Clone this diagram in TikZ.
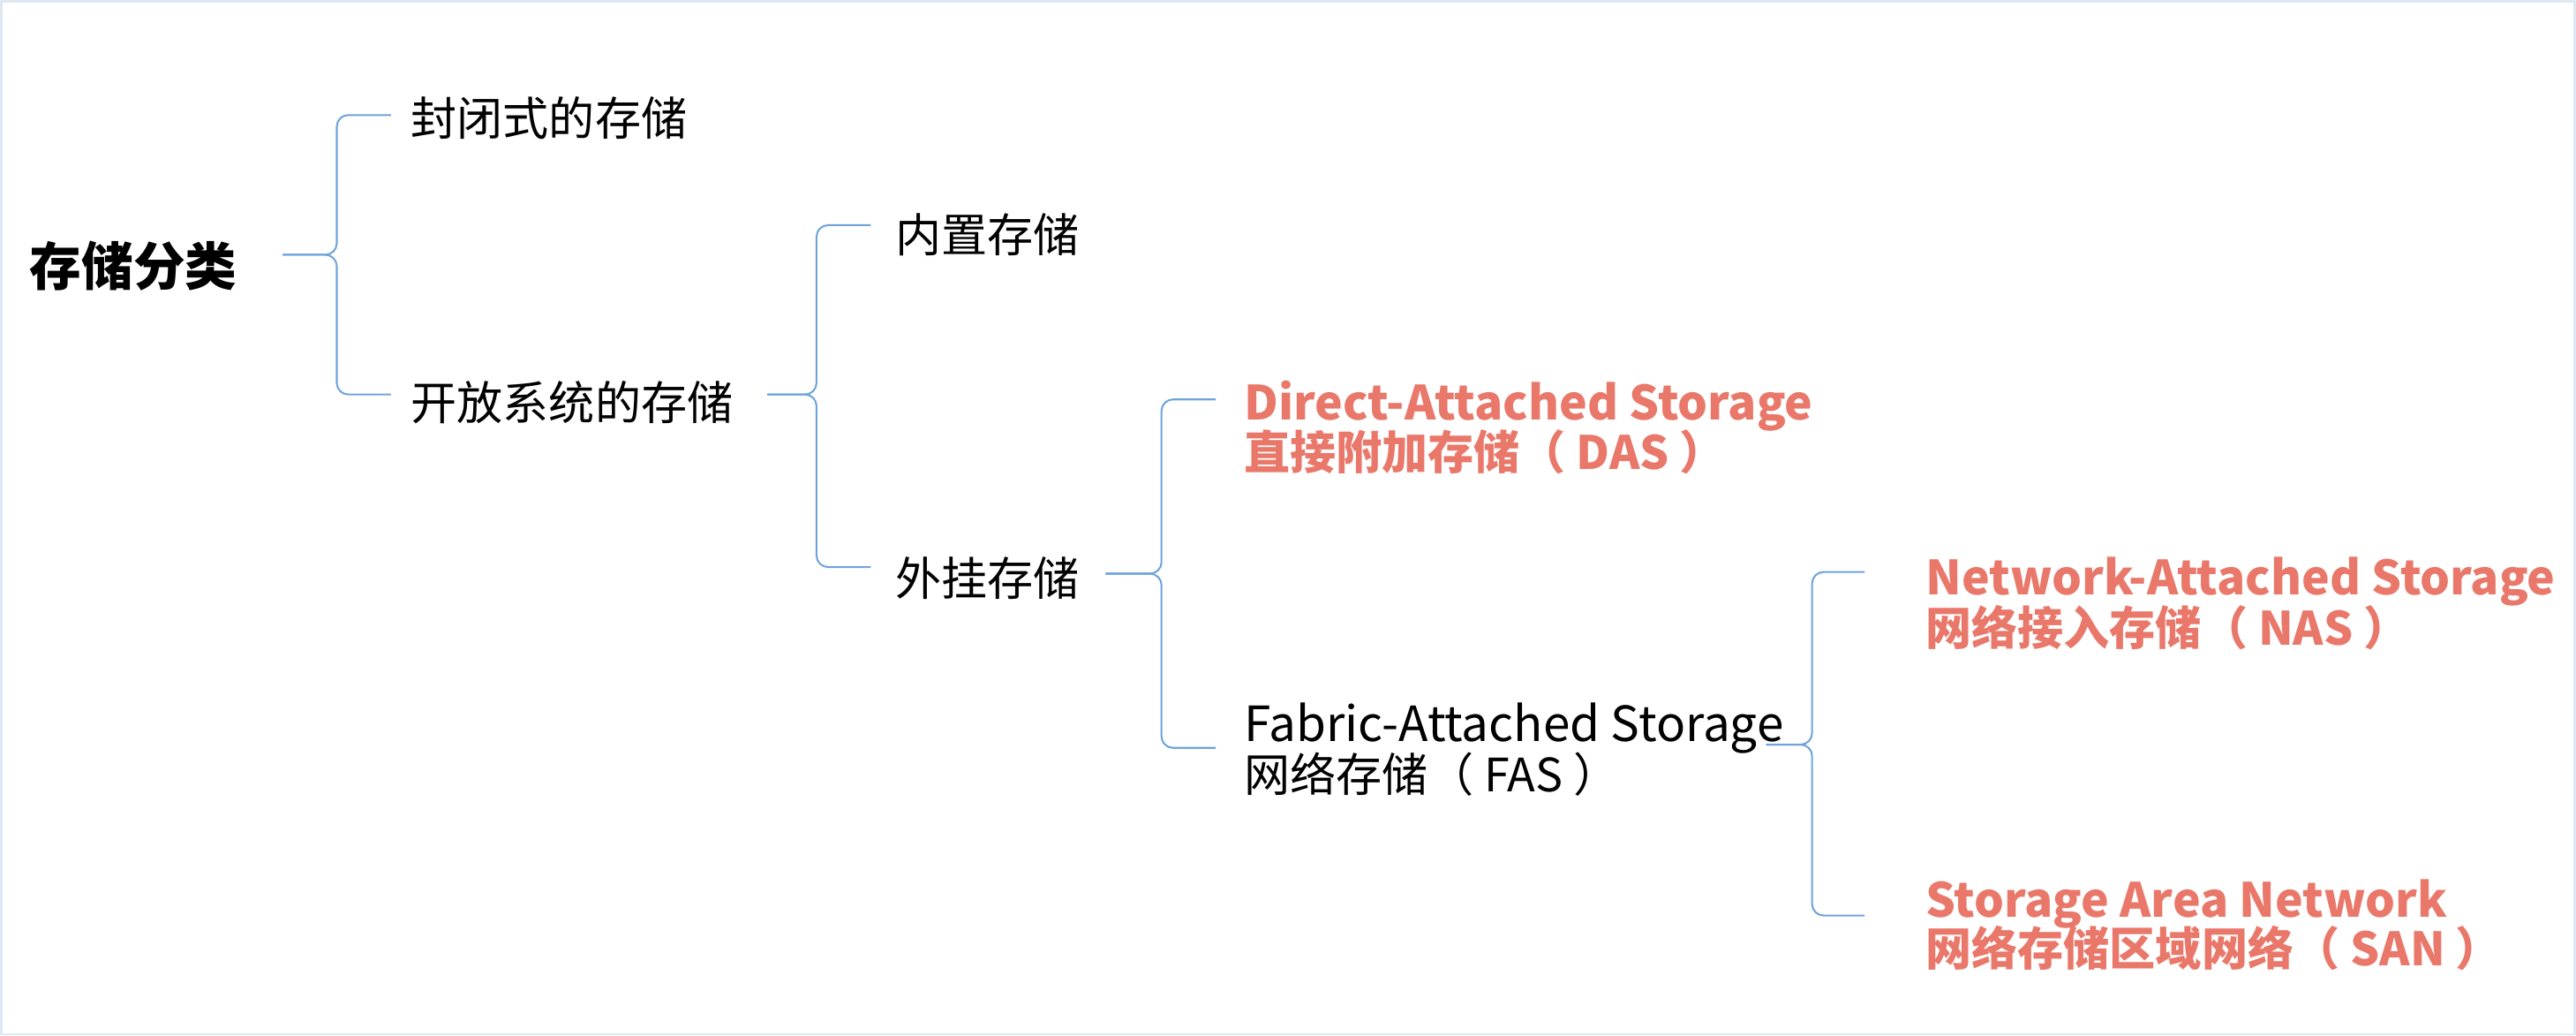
\documentclass[tikz,border=0pt]{standalone}
\usepackage{fontspec}
\setmainfont{Noto Sans CJK SC}
\usetikzlibrary{positioning, calc}

\definecolor{branchblue}{HTML}{6FA3DC}
\definecolor{hotred}{HTML}{E9786A}
\definecolor{framegray}{HTML}{DDE8F4}

\begin{document}
\begin{tikzpicture}[
        x=1pt, y=-1pt,
        item/.style={anchor=west, inner sep=0pt, font=\fontsize{28}{30}\selectfont, text=black},
        itemEn/.style={item, font=\fontsize{29.5}{31}\selectfont},
        hot/.style={item, font=\fontsize{28}{30}\selectfont\bfseries, text=hotred},
        hotEn/.style={hot, font=\fontsize{28.7}{30}\selectfont\bfseries},
        root/.style={item, font=\fontsize{31.5}{34}\selectfont\bfseries},
        brace/.style={draw=branchblue, line width=1.1pt, rounded corners=7pt},
    ]

    % ── frame ──
    \useasboundingbox (0,0) rectangle (1568,630);
    \draw[framegray, line width=1.4pt] (0.7,0.7) rectangle (1567.3,629.3);

    % ── root ──
    \node[root] (root) at (18,162) {存储分类};

    % ── level 1 ──
    \node[item] (closed) at (250,72) {封闭式的存储};
    \node[item] (open) at (250,245) {开放系统的存储};

    % ── level 2 ──
    \node[item] (builtin) at (545,143) {内置存储};
    \node[item] (external) at (545,352) {外挂存储};

    % ── level 3 ──
    \node[hotEn] (dasEn) at (757,247) {Direct-Attached Storage};
    \node[hot] (dasCn) at ([yshift=-28pt]dasEn.west) {直接附加存储（ DAS ）};
    \node[itemEn] (fasEn) at (757,443) {Fabric-Attached Storage};
    \node[item] (fasCn) at ([yshift=-28pt]fasEn.west) {网络存储（ FAS ）};

    % ── level 4 ──
    \node[hotEn] (nasEn) at (1172,354) {Network-Attached Storage};
    \node[hot] (nasCn) at ([yshift=-28pt]nasEn.west) {网络接入存储（ NAS ）};
    \node[hotEn] (sanEn) at (1172,550) {Storage Area Network};
    \node[hot] (sanCn) at ([yshift=-27pt]sanEn.west) {网络存储区域网络（ SAN ）};

    % ── brace tips ──
    \coordinate (tip1) at (172,155);
    \coordinate (tip2) at (467,240);
    \coordinate (tip3) at (673,349);
    \coordinate (tip4) at (1075,453);

    % ── braces ──
    \draw[brace] (tip1) -| ([xshift=-45pt,yshift=2pt]closed.west) -- ([xshift=-12pt,yshift=2pt]closed.west);
    \draw[brace] (tip1) -| ([xshift=-45pt,yshift=5pt]open.west) -- ([xshift=-12pt,yshift=5pt]open.west);
    \draw[brace] (tip2) -| ([xshift=-48pt,yshift=6pt]builtin.west) -- ([xshift=-15pt,yshift=6pt]builtin.west);
    \draw[brace] (tip2) -| ([xshift=-48pt,yshift=7pt]external.west) -- ([xshift=-15pt,yshift=7pt]external.west);
    \draw[brace] (tip3) -| ([xshift=-50pt,yshift=4pt]dasEn.west) -- ([xshift=-17pt,yshift=4pt]dasEn.west);
    \draw[brace] (tip3) -| ([xshift=-50pt,yshift=-12pt]fasEn.west) -- ([xshift=-17pt,yshift=-12pt]fasEn.west);
    \draw[brace] (tip4) -| ([xshift=-69pt,yshift=6pt]nasEn.west) -- ([xshift=-37pt,yshift=6pt]nasEn.west);
    \draw[brace] (tip4) -| ([xshift=-69pt,yshift=-7pt]sanEn.west) -- ([xshift=-37pt,yshift=-7pt]sanEn.west);

\end{tikzpicture}
\end{document}
